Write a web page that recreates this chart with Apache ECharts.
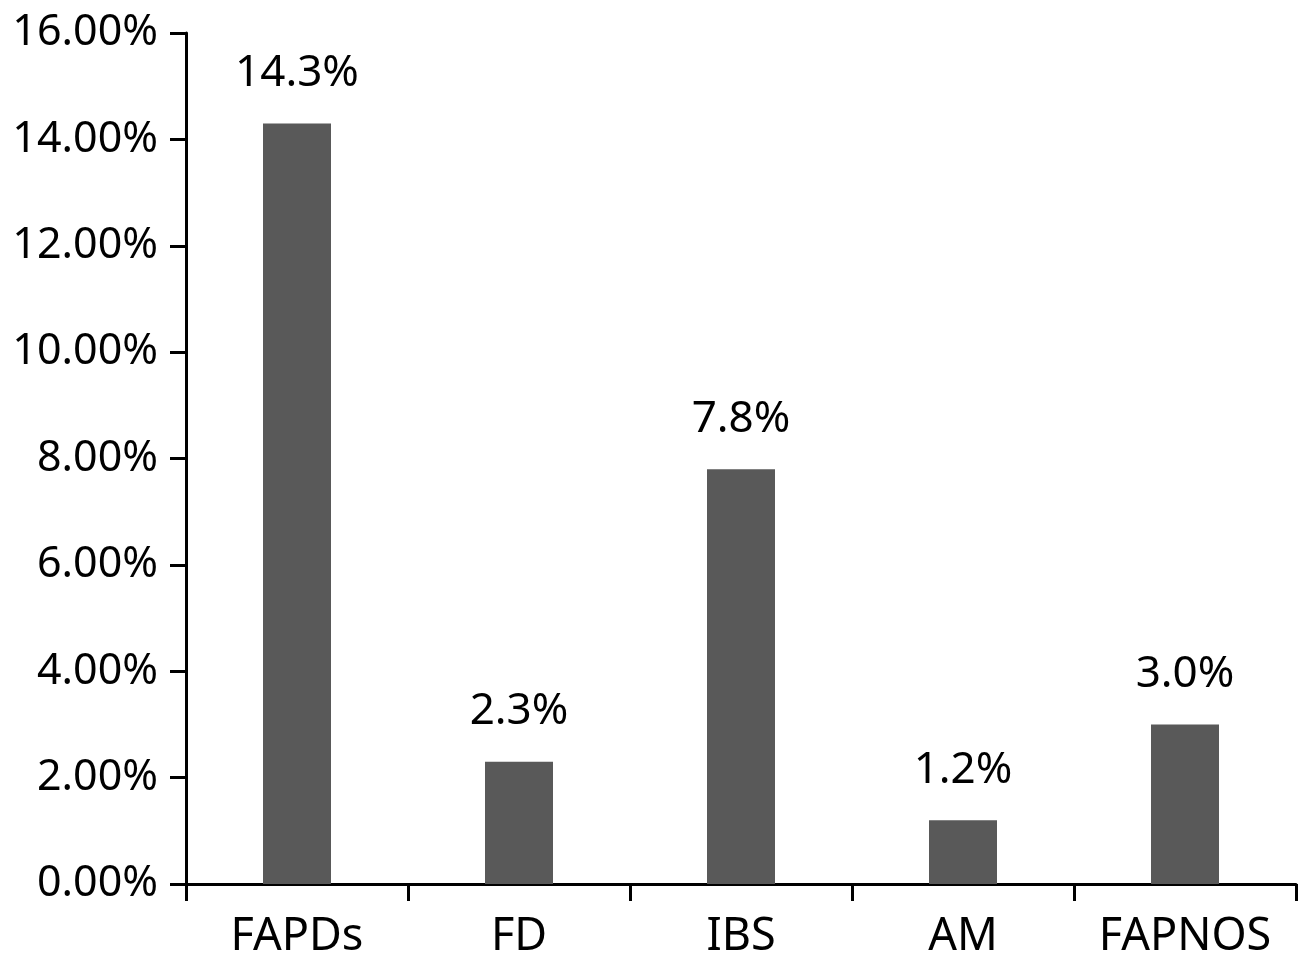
<!DOCTYPE html>
<html>
<head>
<meta charset="utf-8">
<script src="https://cdn.jsdelivr.net/npm/echarts@6/dist/echarts.min.js"></script>
<style>
  html, body { margin: 0; padding: 0; background: #ffffff; }
  #chart { width: 1299px; height: 956px; }
</style>
</head>
<body>
<div id="chart"></div>
<script>
// Prevalence by disorder group (%)
const categories = ['FAPDs', 'FD', 'IBS', 'AM', 'FAPNOS'];
const prevalence = [14.3, 2.3, 7.8, 1.2, 3.0];

const FONT = '"Noto Sans", "Open Sans", sans-serif';

const chart = echarts.init(document.getElementById('chart'));
chart.setOption({
  backgroundColor: '#ffffff',
  animation: false,
  grid: { left: 186, right: 3, top: 33, bottom: 72, containLabel: false, outerBoundsMode: 'none' },
  xAxis: {
    type: 'category',
    data: categories,
    boundaryGap: true,
    axisLine: { lineStyle: { color: '#000', width: 3 } },
    axisTick: { show: true, interval: 0, length: 17, lineStyle: { color: '#000', width: 3 }, alignWithLabel: false },
    axisLabel: { interval: 0, hideOverlap: false, color: '#000', fontSize: 45, fontFamily: FONT, margin: 31 }
  },
  yAxis: {
    type: 'value',
    min: 0,
    max: 16,
    interval: 2,
    axisLine: { show: true, lineStyle: { color: '#000', width: 3 } },
    axisTick: { show: true, length: 16, lineStyle: { color: '#000', width: 3 } },
    splitLine: { show: false },
    axisLabel: {
      color: '#000', fontSize: 43, fontFamily: FONT, margin: 28,
      formatter: v => v.toFixed(2) + '%'
    }
  },
  series: [{
    type: 'bar',
    data: prevalence,
    barWidth: 68,
    itemStyle: { color: '#595959' },
    label: {
      show: true,
      position: 'top',
      distance: 28,
      color: '#000',
      fontSize: 44,
      fontFamily: FONT,
      formatter: p => p.value.toFixed(1) + '%'
    }
  }]
});
</script>
</body>
</html>
